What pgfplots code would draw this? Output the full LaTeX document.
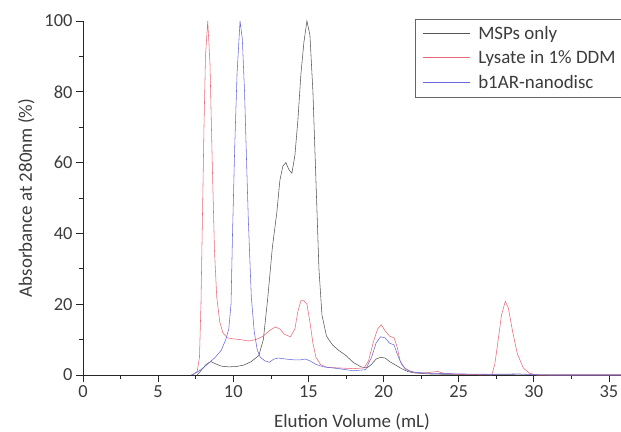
\documentclass[border=0pt]{standalone}
\usepackage{fontspec}
\setmainfont{Carlito}
\usepackage{pgfplots}
\pgfplotsset{compat=1.18}
\definecolor{cgray}{RGB}{85,85,85}
\definecolor{cred}{RGB}{232,105,120}
\definecolor{cblue}{RGB}{105,105,220}
\definecolor{ctext}{RGB}{60,60,60}
\newcommand{\legline}[1]{\hspace*{4bp}\textcolor{#1}{\rule[0.3em]{47bp}{0.7pt}}\hspace*{8bp}}
\begin{document}
\begin{tikzpicture}
\begin{axis}[
  at={(0,0)}, anchor=south west,
  scale only axis, width=538bp, height=354bp,
  xmin=0, xmax=35.8, ymin=0, ymax=100,
  axis x line*=bottom, axis y line*=left,
  axis line style={black!85, line width=0.8pt},
  xtick={0,5,...,35}, ytick={0,20,...,100},
  minor x tick num=1, minor y tick num=1,
  tick align=outside,
  major tick length=7bp, minor tick length=4bp,
  tick style={black!85, line width=0.7pt},
  /pgf/number format/assume math mode=true,
  tick label style={font=\fontsize{18.5}{22}\selectfont, text=ctext},
  xlabel={Elution Volume (mL)}, ylabel={Absorbance at 280nm (\%)},
  label style={font=\fontsize{19}{22}\selectfont, text=ctext},
  xlabel style={yshift=-9bp},
  ylabel style={yshift=3bp},
  clip=false,
  legend cell align=left,
  legend image code/.code={},
  legend style={at={(axis cs:22.1,100.6)}, anchor=north west, draw=black!60,
    font=\fontsize{19}{22}\selectfont,
    inner xsep=2bp, inner ysep=5bp, row sep=6bp, column sep=0pt},
  every axis plot/.append style={line width=0.55pt},
]
\addplot[cgray] coordinates {
(7.6,0)(7.9,1.5)(8.2,3)(8.5,3.8)(8.8,3.2)(9.2,2.5)(9.7,2.3)(10.2,2.4)(10.7,2.8)(11.2,3.8)(11.7,5.5)(12.0,10)(12.3,22)(12.6,36)(12.9,46)(13.1,55)(13.3,59)(13.5,60)(13.7,58)(13.9,57)(14.1,62)(14.3,72)(14.5,85)(14.7,94)(14.9,100)(15.1,96)(15.3,80)(15.5,55)(15.7,30)(15.9,17)(16.2,11)(16.6,8.5)(17.0,7)(17.5,5.5)(18.0,3.5)(18.5,2.3)(18.9,2)(19.2,3)(19.5,4.5)(19.8,5)(20.1,4.8)(20.4,3.8)(20.8,2.8)(21.2,1.8)(21.6,1)(22,0.6)(23,0.3)(24,0.2)(26,0.1)(28,0.1)(30,0)(35.8,0)
};
\addlegendentry{\legline{cgray}\textcolor{ctext}{MSPs only}}
\addplot[cred] coordinates {
(7.3,0)(7.6,1)(7.75,5)(7.85,20)(7.95,45)(8.05,70)(8.15,90)(8.3,100)(8.45,88)(8.6,60)(8.75,35)(8.9,22)(9.1,15)(9.3,12)(9.6,10.5)(10.0,10.2)(10.5,10)(11.0,9.6)(11.5,10)(12.0,11)(12.4,12.5)(12.8,13.6)(13.1,13)(13.4,11.5)(13.8,10.8)(14.1,13)(14.3,18)(14.5,21)(14.7,21)(14.9,20)(15.1,15)(15.3,9)(15.5,5)(15.8,3)(16.2,2.2)(17,2)(18,1.8)(18.7,2)(19.0,4)(19.3,9)(19.6,13)(19.85,14.2)(20.1,12.5)(20.4,11)(20.7,10.5)(20.9,8)(21.1,4)(21.4,2)(21.8,1)(22.5,0.5)(23.2,0.8)(23.6,1)(24,0.5)(25,0.2)(26,0.1)(27.2,0)(27.4,3)(27.6,9)(27.85,17)(28.1,20.8)(28.3,19)(28.6,12)(28.9,6)(29.3,2)(29.7,0.5)(30.2,0)(35.8,0)
};
\addlegendentry{\legline{cred}\textcolor{ctext}{Lysate in 1\% DDM}\rule{14bp}{0pt}}
\addplot[cblue] coordinates {
(7.2,0)(7.6,0.8)(8.0,2)(8.4,3.5)(8.8,5)(9.2,7)(9.5,10)(9.7,13)(9.85,20)(9.95,40)(10.1,65)(10.25,85)(10.45,100)(10.6,95)(10.75,80)(10.9,58)(11.0,44)(11.2,22)(11.4,12)(11.6,7)(11.8,5)(12.1,4)(12.4,3.6)(12.7,4.5)(13.0,4.8)(13.5,4.5)(14.0,4.3)(14.5,4.3)(14.8,4.5)(15.1,4)(15.5,3)(16,2.3)(17,1.8)(18,1.2)(18.8,1.5)(19.2,5)(19.5,9)(19.8,10.8)(20.1,10.5)(20.4,9)(20.7,8.5)(20.9,6)(21.2,3)(21.5,1.5)(22,0.8)(23,0.5)(25,0.3)(27,0.2)(29,0.3)(30,0.1)(31,0)(35.8,0)
};
\addlegendentry{\legline{cblue}\textcolor{ctext}{b1AR-nanodisc}}
\end{axis}
\pgfresetboundingbox
\path[use as bounding box] (-83bp,-57bp) rectangle (538bp,375bp);
\end{tikzpicture}
\end{document}
